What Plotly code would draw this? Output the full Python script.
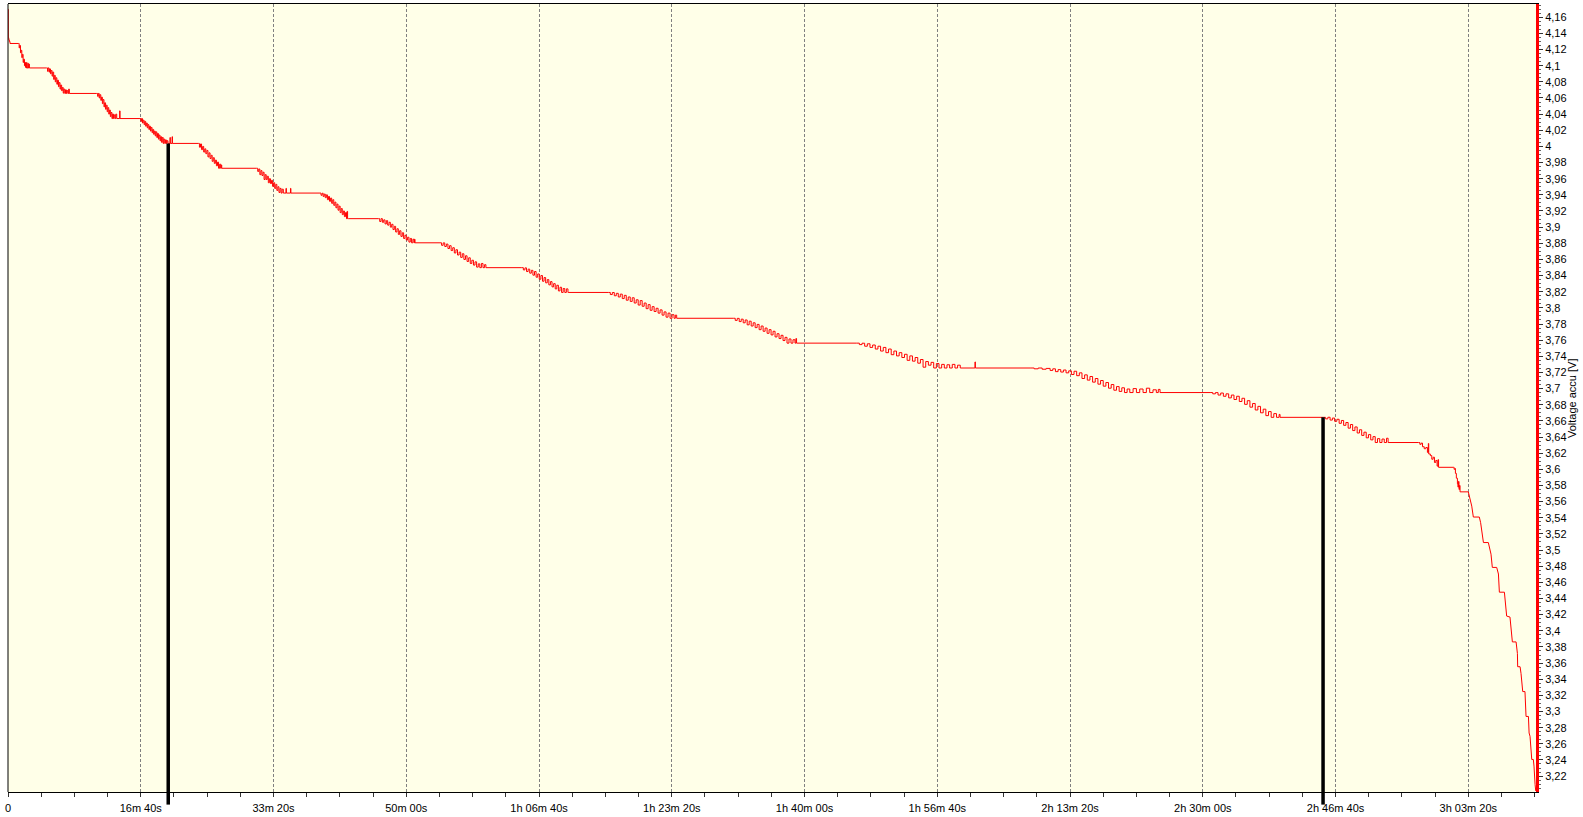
import plotly.graph_objects as go

# ---- data (time in seconds, voltage in V) ----
# noisy stepped part of the discharge (drawn as sample-and-hold)
time_s = [
    0, 2, 6, 10, 15,
    78, 84, 88, 94, 98, 104, 108, 114, 118, 124, 128, 132, 136, 140, 143, 150, 153, 158, 161,
    291, 298, 302, 309, 313, 320, 325, 332, 337, 344, 349, 356, 361, 368, 373, 380, 385, 392, 397, 404, 409, 416, 421, 428, 433, 440, 445, 452, 457, 462, 467,
    668, 675, 680, 687, 692, 699, 704, 711, 716, 723, 728, 735, 740, 747, 752, 759, 764, 771, 776, 783, 788, 795, 800, 807, 812, 819, 841, 844,
    994, 1001, 1006, 1013, 1018, 1025, 1030, 1037, 1042, 1049, 1054, 1061, 1066, 1073, 1078, 1085, 1090, 1097, 1102, 1109, 1114, 1121, 1126, 1133, 1138, 1145, 1150, 1157, 1162, 1169, 1174, 1181, 1186, 1193, 1198, 1205, 1220, 1223, 1236, 1239,
    1434, 1442, 1450, 1458, 1466, 1474, 1482, 1490, 1498, 1506, 1514, 1522, 1530, 1538, 1546, 1554, 1562, 1570, 1578, 1586, 1594, 1602, 1606, 1610,
    1873, 1881, 1889, 1897, 1905, 1913, 1921, 1929, 1937, 1945, 1953, 1961, 1969, 1977, 1985, 1993, 2001, 2009, 2017, 2025, 2033, 2041, 2049, 2057, 2065, 2074, 2094, 2097, 2128, 2131,
    2350, 2358, 2366, 2374, 2382, 2390, 2398, 2406, 2414, 2422, 2430, 2438, 2446, 2454, 2462, 2470, 2478, 2486, 2494, 2502, 2510, 2518, 2526, 2534, 2542, 2550, 2554, 2558, 2564,
    2790, 2800, 2810, 2820, 2830, 2840, 2850, 2860, 2870, 2880, 2890, 2900, 2910, 2920, 2930, 2940, 2950, 2960, 2970, 2980, 2990, 3000, 3010, 3020, 3030, 3040, 3050, 3058, 3062, 3066,
    3254, 3266, 3278, 3290, 3302, 3314, 3326, 3338, 3350, 3362, 3374, 3386, 3398, 3410, 3422, 3434, 3446, 3458, 3470, 3482, 3494, 3506, 3518, 3530, 3542, 3554, 3566, 3578, 3590, 3600,
    3870, 3882, 3894, 3906, 3918, 3930, 3942, 3954, 3966, 3978, 3990, 4002, 4014, 4026, 4038, 4050, 4062, 4074, 4086, 4098, 4110, 4122, 4134, 4146, 4158, 4170, 4182, 4194, 4206, 4218, 4225,
    4522, 4537, 4552, 4567, 4582, 4597, 4612, 4627, 4642, 4657, 4672, 4687, 4702, 4717, 4732, 4747, 4762, 4777, 4792, 4807, 4822, 4837, 4852, 4867, 4882, 4897, 4912, 4927, 4942, 4957, 4972, 4987, 5002, 5017, 5027, 5037,
    5463, 5478, 5493, 5508, 5523, 5538, 5553, 5568, 5583, 5598, 5613, 5628, 5643, 5658, 5673, 5688, 5703, 5718, 5733, 5748, 5763, 5778, 5793, 5808, 5823, 5838, 5853, 5868, 5883, 5898, 5913, 5928, 5935, 5940, 5966,
    6393, 6413, 6433, 6453, 6473, 6493, 6513, 6533, 6553, 6573, 6593, 6613, 6633, 6653, 6673, 6693, 6713, 6733, 6753, 6773, 6793, 6813, 6833, 6853, 6873, 6893, 6913, 6933, 6953, 6973, 6993, 7013, 7033, 7053, 7073, 7093, 7113, 7133, 7153, 7173, 7282, 7284, 7287,
    7699, 7730, 7760, 7790, 7820, 7850, 7870, 7890, 7910, 7930, 7950, 7970, 7990, 8010, 8030, 8050, 8070, 8090, 8110, 8130, 8150, 8170, 8190, 8210, 8230, 8250, 8270, 8290, 8310, 8330, 8350, 8370, 8390, 8410, 8430, 8450, 8475, 8500, 8525, 8550, 8575, 8600, 8625, 8650, 8665, 8678,
    9055, 9075, 9095, 9115, 9135, 9155, 9175, 9195, 9215, 9235, 9255, 9275, 9295, 9315, 9335, 9355, 9375, 9395, 9415, 9435, 9455, 9475, 9495, 9515, 9535, 9555, 9575, 9582,
    9908, 9925, 9942, 9959, 9976, 9993, 10010, 10027, 10044, 10061, 10078, 10095, 10112, 10129, 10146, 10163, 10180, 10197, 10214, 10231, 10248, 10265, 10282, 10299, 10316, 10333, 10350, 10367, 10384, 10396,
    10624, 10635, 10645, 10655, 10668, 10680, 10692, 10699, 10702, 10714, 10725, 10735, 10745, 10755, 10765, 10772, 10776,
    10888, 10893, 10898, 10903, 10910, 10918, 10922, 10926, 10930, 10934, 10938, 11000,
]
voltage_v = [
    4.1698, 4.1345, 4.132, 4.130, 4.1275,
    4.1275, 4.122, 4.125, 4.116, 4.119, 4.110, 4.114, 4.104, 4.108, 4.100, 4.104, 4.098, 4.0972, 4.104, 4.0972, 4.103, 4.0972, 4.102, 4.0972,
    4.0972, 4.093, 4.0972, 4.092, 4.096, 4.090, 4.094, 4.087, 4.092, 4.083, 4.088, 4.080, 4.085, 4.077, 4.082, 4.074, 4.079, 4.071, 4.076, 4.069, 4.073, 4.066, 4.071, 4.0656, 4.070, 4.0656, 4.069, 4.0656, 4.071, 4.0656, 4.0656,
    4.0656, 4.062, 4.0656, 4.060, 4.064, 4.057, 4.061, 4.053, 4.058, 4.049, 4.054, 4.046, 4.051, 4.043, 4.048, 4.040, 4.045, 4.037, 4.042, 4.0345, 4.040, 4.0345, 4.039, 4.0345, 4.040, 4.0345, 4.044, 4.0345,
    4.0345, 4.031, 4.0345, 4.029, 4.0325, 4.027, 4.031, 4.025, 4.029, 4.023, 4.027, 4.021, 4.025, 4.019, 4.0235, 4.017, 4.021, 4.015, 4.019, 4.013, 4.018, 4.011, 4.016, 4.009, 4.014, 4.007, 4.012, 4.005, 4.011, 4.0037, 4.009, 4.0037, 4.008, 4.0037, 4.007, 4.0037, 4.011, 4.0037, 4.012, 4.0037,
    4.0037, 3.999, 4.003, 3.996, 4.000, 3.993, 3.997, 3.991, 3.995, 3.987, 3.992, 3.985, 3.989, 3.9815, 3.986, 3.979, 3.983, 3.976, 3.9805, 3.9729, 3.978, 3.9729, 3.977, 3.9729,
    3.9729, 3.969, 3.972, 3.965, 3.970, 3.964, 3.968, 3.959, 3.965, 3.959, 3.963, 3.955, 3.960, 3.954, 3.958, 3.9505, 3.955, 3.948, 3.953, 3.9455, 3.950, 3.943, 3.948, 3.9422, 3.947, 3.9422, 3.948, 3.9422, 3.948, 3.9422,
    3.9422, 3.9395, 3.942, 3.938, 3.941, 3.9365, 3.940, 3.934, 3.938, 3.932, 3.936, 3.9295, 3.934, 3.927, 3.931, 3.924, 3.9285, 3.921, 3.926, 3.918, 3.923, 3.9155, 3.920, 3.913, 3.918, 3.9105, 3.9195, 3.9105, 3.9105,
    3.9105, 3.907, 3.9105, 3.906, 3.909, 3.904, 3.908, 3.9025, 3.906, 3.900, 3.9035, 3.897, 3.901, 3.894, 3.898, 3.891, 3.8955, 3.8885, 3.893, 3.886, 3.890, 3.884, 3.8875, 3.8815, 3.886, 3.8806, 3.885, 3.8806, 3.885, 3.8806,
    3.8806, 3.8775, 3.8805, 3.876, 3.879, 3.8735, 3.877, 3.871, 3.8745, 3.868, 3.872, 3.8655, 3.869, 3.8625, 3.867, 3.860, 3.8645, 3.8575, 3.862, 3.855, 3.859, 3.853, 3.857, 3.8505, 3.8545, 3.8498, 3.855, 3.8498, 3.8535, 3.8498,
    3.8498, 3.847, 3.8495, 3.845, 3.848, 3.843, 3.8465, 3.8405, 3.845, 3.838, 3.842, 3.8355, 3.840, 3.833, 3.8375, 3.831, 3.835, 3.8285, 3.8325, 3.826, 3.830, 3.8235, 3.828, 3.821, 3.8255, 3.8191, 3.824, 3.8191, 3.8235, 3.8191, 3.8191,
    3.8191, 3.8165, 3.819, 3.815, 3.818, 3.8135, 3.817, 3.8115, 3.8155, 3.8095, 3.8135, 3.808, 3.8125, 3.806, 3.810, 3.8035, 3.809, 3.802, 3.806, 3.799, 3.804, 3.797, 3.8015, 3.7955, 3.7995, 3.7935, 3.7975, 3.791, 3.795, 3.7885, 3.7935, 3.7871, 3.7915, 3.7871, 3.791, 3.7871,
    3.7871, 3.7845, 3.787, 3.783, 3.786, 3.7815, 3.785, 3.779, 3.7835, 3.7775, 3.7815, 3.7755, 3.7795, 3.773, 3.7775, 3.771, 3.775, 3.7685, 3.773, 3.7665, 3.771, 3.764, 3.768, 3.762, 3.766, 3.7595, 3.7635, 3.7563, 3.7615, 3.7563, 3.7605, 3.7563, 3.762, 3.7563, 3.7563,
    3.7563, 3.7545, 3.7562, 3.7525, 3.7555, 3.751, 3.754, 3.749, 3.7525, 3.7465, 3.751, 3.7445, 3.749, 3.742, 3.7465, 3.7405, 3.7445, 3.7385, 3.7425, 3.735, 3.7405, 3.734, 3.7385, 3.7315, 3.736, 3.7265, 3.7335, 3.729, 3.7325, 3.7255, 3.731, 3.7255, 3.730, 3.7255, 3.7295, 3.7255, 3.730, 3.7255, 3.729, 3.7255, 3.7255, 3.733, 3.7255,
    3.7255, 3.7245, 3.7255, 3.724, 3.725, 3.7225, 3.7245, 3.721, 3.7235, 3.7205, 3.723, 3.7195, 3.722, 3.7175, 3.7215, 3.716, 3.7195, 3.7125, 3.717, 3.7105, 3.715, 3.708, 3.7125, 3.7055, 3.710, 3.703, 3.7075, 3.7005, 3.705, 3.698, 3.7025, 3.6965, 3.701, 3.6951, 3.6995, 3.6951, 3.700, 3.6951, 3.6995, 3.6951, 3.7005, 3.6951, 3.6985, 3.6951, 3.699, 3.6951,
    3.6951, 3.6935, 3.695, 3.692, 3.6945, 3.6905, 3.6935, 3.6885, 3.692, 3.6865, 3.6905, 3.684, 3.688, 3.6805, 3.685, 3.677, 3.6815, 3.6735, 3.678, 3.670, 3.6745, 3.6665, 3.6715, 3.6644, 3.669, 3.6644, 3.668, 3.6644,
    3.6644, 3.6625, 3.6645, 3.661, 3.6635, 3.6595, 3.662, 3.657, 3.6605, 3.6545, 3.658, 3.651, 3.6555, 3.648, 3.6525, 3.645, 3.649, 3.642, 3.646, 3.639, 3.643, 3.6365, 3.6405, 3.6332, 3.638, 3.6332, 3.6375, 3.6332, 3.6385, 3.6332,
    3.6332, 3.631, 3.6325, 3.628, 3.6255, 3.627, 3.621, 3.632, 3.619, 3.617, 3.6125, 3.615, 3.6085, 3.611, 3.604, 3.612, 3.6025,
    3.6025, 3.600, 3.601, 3.595, 3.589, 3.582, 3.578, 3.585, 3.575, 3.580, 3.5721, 3.5721,
]
# steep end of discharge (corner points of the trace)
tail_time_s = [11000, 11013, 11026, 11038, 11083, 11093, 11108, 11114, 11151, 11164, 11171, 11181, 11214, 11227,
               11234, 11272, 11282, 11289, 11314, 11322, 11332, 11360, 11370, 11372, 11390, 11397, 11410, 11427,
               11432, 11435, 11453, 11458, 11465, 11470, 11478, 11490, 11495, 11503, 11508]
tail_voltage_v = [3.5721, 3.5647, 3.5544, 3.5409, 3.5409, 3.5339, 3.5196, 3.5093, 3.5093, 3.5011, 3.4949, 3.4785,
                  3.4785, 3.4703, 3.4478, 3.4478, 3.4293, 3.4182, 3.4170, 3.4047, 3.3862, 3.3862, 3.3719, 3.3555,
                  3.3555, 3.3473, 3.3247, 3.3247, 3.3062, 3.2939, 3.2939, 3.2734, 3.2693, 3.2529, 3.2406, 3.2406,
                  3.2324, 3.2098, 3.2016]

# cursors (time s, voltage V)
cursor_t = [1207, 9906]
cursor_v = [4.0037, 3.6644]

x_tick_vals = [0, 1000, 2000, 3000, 4000, 5000, 6000, 7000, 8000, 9000, 10000, 11000]
x_tick_text = ["0", "16m 40s", "33m 20s", "50m 00s", "1h 06m 40s", "1h 23m 20s",
               "1h 40m 00s", "1h 56m 40s", "2h 13m 20s", "2h 30m 00s", "2h 46m 40s", "3h 03m 20s"]
y_tick_vals = [round(3.22 + 0.02 * i, 2) for i in range(48)]
y_tick_text = [("%.2f" % v).rstrip("0").rstrip(".").replace(".", ",") for v in y_tick_vals]
y_title = "Voltage accu [V]"

X_RANGE = [0, 11510]
Y_RANGE = [3.2003, 4.1764]

fig = go.Figure()
fig.add_trace(go.Scatter(
    x=time_s, y=voltage_v, mode="lines", line_shape="hv",
    line=dict(color="#FF0000", width=1), hoverinfo="skip", showlegend=False,
))
fig.add_trace(go.Scatter(
    x=tail_time_s, y=tail_voltage_v, mode="lines",
    line=dict(color="#FF0000", width=1), hoverinfo="skip", showlegend=False,
))

shapes = []
for t, v in zip(cursor_t, cursor_v):
    shapes.append(dict(type="line", xref="x", yref="y", x0=t, x1=t, y0=Y_RANGE[0], y1=v,
                       line=dict(color="black", width=3.5), layer="above"))
    shapes.append(dict(type="line", xref="x", yref="paper", x0=t, x1=t, y0=-0.016, y1=0,
                       line=dict(color="black", width=3.5), layer="above"))
# left black border
shapes.append(dict(type="line", xref="paper", yref="paper", x0=0, x1=0, y0=0, y1=1,
                   line=dict(color="black", width=1)))

fig.update_layout(
    width=1583, height=817,
    margin=dict(l=8, r=47, t=3, b=21),
    paper_bgcolor="white",
    plot_bgcolor="#FFFFE8",
    font=dict(family="Liberation Sans, Arial, sans-serif", size=11, color="black"),
    shapes=shapes,
    showlegend=False,
    annotations=[dict(text=y_title, xref="paper", yref="paper", x=1, y=0.5,
                      xanchor="center", yanchor="middle", xshift=36, textangle=-90,
                      showarrow=False, font=dict(size=11, color="black"))],
    xaxis=dict(
        range=X_RANGE, tickmode="array", tickvals=x_tick_vals, ticktext=x_tick_text,
        ticks="outside", ticklen=4, tickcolor="#333", tickwidth=1,
        ticklabelstandoff=2,
        minor=dict(tickmode="linear", tick0=0, dtick=250, ticks="outside", ticklen=4,
                   tickcolor="#333", showgrid=False),
        showgrid=True, gridcolor="#808080", griddash="3px,2px", gridwidth=1,
        showline=True, linecolor="black", linewidth=1, mirror=True,
        zeroline=False, tickfont=dict(size=11),
    ),
    yaxis=dict(
        side="right", range=Y_RANGE, tickmode="array", tickvals=y_tick_vals, ticktext=y_tick_text,
        ticks="outside", ticklen=4, tickcolor="#333", tickwidth=1,
        minor=dict(tickmode="linear", tick0=3.2, dtick=0.005, ticks="outside", ticklen=2,
                   tickcolor="#666", showgrid=False),
        showgrid=False, zeroline=False,
        showline=True, linecolor="#FF0000", linewidth=3,
        tickfont=dict(size=11),
    ),
)

fig.write_html("out.html", config={"displayModeBar": False},
               post_script="document.body.style.margin='0';document.body.style.overflow='hidden';")
